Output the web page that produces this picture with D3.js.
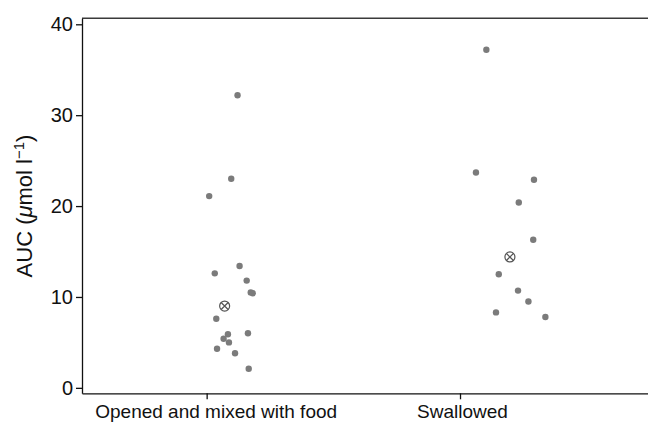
<!DOCTYPE html>
<html>
<head>
<meta charset="utf-8">
<script src="https://cdn.jsdelivr.net/npm/d3@7"></script>
<style>
	body { margin: 0; background: white; }
	text { font-family: "Liberation Sans", Arial, sans-serif; }
</style>
</head>
<body>
<div id="main"></div>
<script>
'use strict';

// groups on the x axis
var categories = ['Opened and mixed with food', 'Swallowed'];

// AUC values, one array per group
var openedAUC = [32.2, 23.0, 21.1, 13.4, 12.6, 11.8, 10.5, 10.4, 7.6, 5.9, 6.0, 5.4, 5.0, 4.3, 3.8, 2.1];
var swallowedAUC = [37.2, 23.7, 22.9, 20.4, 16.3, 12.5, 10.7, 9.5, 8.3, 7.8];

// horizontal jitter of each point (in category units, right of the tick)
var openedJitter = [0.122, 0.097, 0.010, 0.130, 0.032, 0.158, 0.174, 0.182, 0.038, 0.084, 0.163, 0.067, 0.088, 0.041, 0.112, 0.166];
var swallowedJitter = [0.104, 0.063, 0.292, 0.232, 0.289, 0.153, 0.229, 0.270, 0.142, 0.337];
var medianJitter = [0.071, 0.197];

var yTicks = [0, 10, 20, 30, 40];

var width = 648;
var height = 423;
var plotLeft = 82;
var plotTop = 18.3;
var plotBottom = 393.3;
var grey = '#7b7b7b';

var groups = [
	{ cat: 1, values: openedAUC, jitter: openedJitter },
	{ cat: 2, values: swallowedAUC, jitter: swallowedJitter }
];

var points = [];
groups.forEach(function (g) {
	g.values.forEach(function (v, i) {
		points.push({ x: g.cat + g.jitter[i], y: v });
	});
});

var medians = groups.map(function (g, i) {
	return { x: g.cat + medianJitter[i], y: d3.median(g.values) };
});

var svg = d3.select('#main').append('svg')
	.attr('width', width)
	.attr('height', height);

var x = d3.scaleLinear().domain([0.508, 2.742]).range([plotLeft, width]);
var y = d3.scaleLinear().domain([-0.6, 40.66]).range([plotBottom, plotTop]);

// top frame line
svg.append('line')
	.attr('x1', plotLeft).attr('x2', width)
	.attr('y1', plotTop).attr('y2', plotTop)
	.style('stroke', '#3a3a3a')
	.style('stroke-width', 1.5);

var yAxis = svg.append('g')
	.attr('transform', 'translate(' + plotLeft + ',0)')
	.call(d3.axisLeft(y).tickValues(yTicks).tickSize(6).tickPadding(3).tickSizeOuter(0));

var xAxis = svg.append('g')
	.attr('transform', 'translate(0,' + plotBottom + ')')
	.call(d3.axisBottom(x).tickValues([1, 2]).tickSize(6).tickPadding(5).tickSizeOuter(0)
		.tickFormat(function (d) { return categories[d - 1]; }));

svg.selectAll('.tick text')
	.attr('fill', '#111');
yAxis.selectAll('.tick text').style('font-size', '20px');
xAxis.selectAll('.tick text').style('font-size', '19px');
svg.selectAll('.domain, .tick line')
	.style('stroke', '#111')
	.style('stroke-width', 1.3);
xAxis.selectAll('.tick text')
	.attr('dx', function (d) { return d === 1 ? 9 : 2; });

// y axis title
var yLabel = svg.append('text')
	.attr('transform', 'translate(32,206) rotate(-90)')
	.attr('text-anchor', 'middle')
	.style('font-size', '22px')
	.attr('fill', '#111');
yLabel.append('tspan').text('AUC (');
yLabel.append('tspan').style('font-style', 'italic').text('\u03bc');
yLabel.append('tspan').text('mol l');
yLabel.append('tspan').attr('dy', -8).style('font-size', '15px').text('\u22121');
yLabel.append('tspan').attr('dy', 8).text(')');

// data points
svg.append('g').selectAll('circle').data(points).enter().append('circle')
	.attr('cx', function (d) { return x(d.x); })
	.attr('cy', function (d) { return y(d.y); })
	.attr('r', 3.2)
	.style('fill', grey);

// median markers: circle with a cross
var med = svg.append('g').selectAll('g').data(medians).enter().append('g')
	.attr('transform', function (d) { return 'translate(' + x(d.x) + ',' + y(d.y) + ')'; });
med.append('circle')
	.attr('r', 5)
	.style('fill', 'white')
	.style('stroke', '#555')
	.style('stroke-width', 1.2);
med.append('path')
	.attr('d', 'M-3.5,-3.5L3.5,3.5M-3.5,3.5L3.5,-3.5')
	.style('stroke', '#555')
	.style('stroke-width', 1.2);
</script>
</body>
</html>
